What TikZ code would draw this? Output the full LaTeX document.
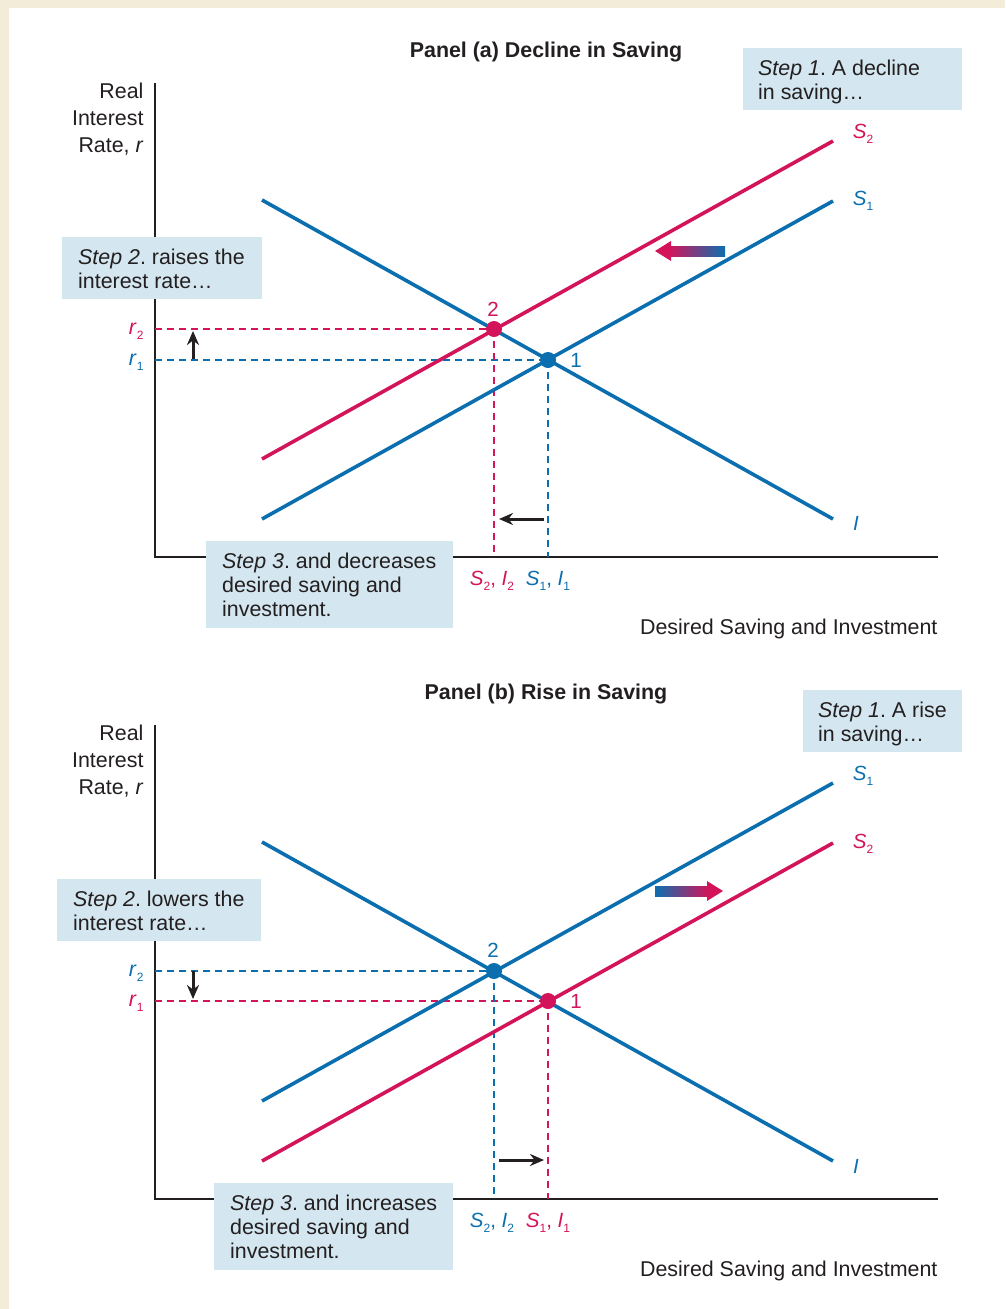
\documentclass[tikz,border=0pt]{standalone}
\usepackage{fontspec}
\setmainfont{Liberation Sans}
\usetikzlibrary{arrows.meta}
\definecolor{cred}{HTML}{D4145A}
\definecolor{cblue}{HTML}{0B6FAF}
\definecolor{boxfill}{HTML}{D4E6EF}
\definecolor{framec}{HTML}{F2ECD9}
\definecolor{txt}{HTML}{231F20}
\newcommand\subl[2]{\textit{#1}\raisebox{-0.45ex}{\fontsize{12}{12}\selectfont #2}}
\frenchspacing
\begin{document}
\begin{tikzpicture}[x=1pt,y=-1pt,
  font=\fontsize{21.4}{24}\selectfont, text=txt,
  curve/.style={line width=3.6pt},
  axisline/.style={line width=1.5pt, draw=txt},
  guide/.style={dashed, dash pattern=on 7pt off 5pt, line width=1.3pt},
  dot/.style={circle, fill=#1, inner sep=0pt, minimum size=16pt},
  stepbox/.style={fill=boxfill, inner sep=0pt, anchor=north west},
  steptext/.style={align=left, inner sep=0pt, anchor=north west},
  shiftarrow/.style={-{Stealth[length=14pt,width=12pt]}, line width=3pt, draw=txt},
  title/.style={font=\fontsize{21.4}{24}\selectfont\bfseries},
  axlab/.style={align=right, anchor=east, font=\fontsize{21.4}{27}\selectfont},
  ptlab/.style={font=\fontsize{20.5}{24}\selectfont},
]
\useasboundingbox (0,0) rectangle (1005,1309);
\fill[framec] (0,0) rectangle (1005,1309);
\fill[white] (9,8) rectangle (1005,1309);

%%%%%%%%%%%%%%%% Panel (a)
\node[title] (ta) at (546,52) {Panel (a) Decline in Saving};
\coordinate (a-o) at (155,557);
\coordinate (a-ytop) at (155,83);
\coordinate (a-xend) at (938,557);
\draw[axisline] (a-ytop) -- (a-o) -- (a-xend);
\node[axlab] (a-ylab) at (147,119) {Real\\Interest\\Rate, \textit{r}};

\coordinate (a-I0) at (262,200); \coordinate (a-I1) at (833,519);
\coordinate (a-S10) at (262,519); \coordinate (a-S11) at (833,201);
\coordinate (a-S20) at (262,459); \coordinate (a-S21) at (833,141);

\coordinate (a-r2) at (155,329); \coordinate (a-r1) at (155,360);
\coordinate (a-x2) at (494,557); \coordinate (a-x1) at (548,557);
\coordinate (a-p2) at (494,329);
\coordinate (a-p1) at (548,360);

\draw[guide, cred] (a-r2) -- (a-p2);
\draw[guide, cblue] (a-r1) -- (a-p1);
\draw[guide, cred] (a-p2) -- (a-x2);
\draw[guide, cblue] (a-p1) -- (a-x1);

\draw[curve, cblue] (a-I0) -- (a-I1);
\draw[curve, cblue] (a-S10) -- (a-S11);
\draw[curve, cred] (a-S20) -- (a-S21);
\node[dot=cred] (a-d2) at (a-p2) {};
\node[dot=cblue] (a-d1) at (a-p1) {};

\node[ptlab, text=cred] (a-l2) at (493,309) {2};
\node[ptlab, text=cblue] (a-l1) at (576,360) {1};
\node[ptlab, text=cred] (a-lS2) at (863,134) {\subl{S}{2}};
\node[ptlab, text=cblue] (a-lS1) at (863,201) {\subl{S}{1}};
\node[ptlab, text=cblue] (a-lI) at (856,523) {\textit{I}};

\node[text=cred, anchor=east] (a-lr2) at (147,331) {\subl{r}{2}};
\node[text=cblue, anchor=east] (a-lr1) at (147,362) {\subl{r}{1}};
\node[ptlab, text=cred] (a-lx2) at (492,581) {\subl{S}{2}, \subl{I}{2}};
\node[ptlab, text=cblue] (a-lx1) at (548,581) {\subl{S}{1}, \subl{I}{1}};

\coordinate (a-ua0) at (193,359); \coordinate (a-ua1) at (193,331);
\draw[shiftarrow] (a-ua0) -- (a-ua1);
\coordinate (a-la0) at (544,519); \coordinate (a-la1) at (499,519);
\draw[shiftarrow] (a-la0) -- (a-la1);

% gradient arrow (left)
\shade[left color=cred, right color=cblue] (669,246) rectangle (725,256);
\fill[cred] (655,251) -- (671,241) -- (671,261) -- cycle;

\node[stepbox, minimum width=219pt, minimum height=62pt] (a-b1) at (743,48) {};
\node[steptext] (a-t1) at ([xshift=15pt,yshift=-12pt]a-b1.north west) {\textit{Step 1}. A decline\\in saving\ldots};
\node[stepbox, minimum width=200pt, minimum height=62pt] (a-b2) at (62,237) {};
\node[steptext] (a-t2) at ([xshift=16pt,yshift=-12pt]a-b2.north west) {\textit{Step 2}. raises the\\interest rate\ldots};
\node[stepbox, minimum width=247pt, minimum height=87pt] (a-b3) at (206,541) {};
\node[steptext] (a-t3) at ([xshift=16pt,yshift=-12pt]a-b3.north west) {\textit{Step 3}. and decreases\\desired saving and\\investment.};

\node[anchor=east] (a-xlab) at (941,629) {Desired Saving and Investment};

%%%%%%%%%%%%%%%% Panel (b)
\node[title] (tb) at (546,694) {Panel (b) Rise in Saving};
\coordinate (b-o) at (155,1199);
\coordinate (b-ytop) at (155,725);
\coordinate (b-xend) at (938,1199);
\draw[axisline] (b-ytop) -- (b-o) -- (b-xend);
\node[axlab] (b-ylab) at (147,761) {Real\\Interest\\Rate, \textit{r}};

\coordinate (b-I0) at (262,842); \coordinate (b-I1) at (833,1161);
\coordinate (b-S10) at (262,1101); \coordinate (b-S11) at (833,783);
\coordinate (b-S20) at (262,1161); \coordinate (b-S21) at (833,843);

\coordinate (b-r2) at (155,971); \coordinate (b-r1) at (155,1001);
\coordinate (b-x2) at (494,1199); \coordinate (b-x1) at (548,1199);
\coordinate (b-p2) at (494,971);
\coordinate (b-p1) at (548,1001);

\draw[guide, cblue] (b-r2) -- (b-p2);
\draw[guide, cred] (b-r1) -- (b-p1);
\draw[guide, cblue] (b-p2) -- (b-x2);
\draw[guide, cred] (b-p1) -- (b-x1);

\draw[curve, cblue] (b-I0) -- (b-I1);
\draw[curve, cblue] (b-S10) -- (b-S11);
\draw[curve, cred] (b-S20) -- (b-S21);
\node[dot=cblue] (b-d2) at (b-p2) {};
\node[dot=cred] (b-d1) at (b-p1) {};

\node[ptlab, text=cblue] (b-l2) at (493,950) {2};
\node[ptlab, text=cred] (b-l1) at (576,1001) {1};
\node[ptlab, text=cblue] (b-lS1) at (863,776) {\subl{S}{1}};
\node[ptlab, text=cred] (b-lS2) at (863,844) {\subl{S}{2}};
\node[ptlab, text=cblue] (b-lI) at (856,1166) {\textit{I}};

\node[text=cblue, anchor=east] (b-lr2) at (147,973) {\subl{r}{2}};
\node[text=cred, anchor=east] (b-lr1) at (147,1003) {\subl{r}{1}};
\node[ptlab, text=cblue] (b-lx2) at (492,1223) {\subl{S}{2}, \subl{I}{2}};
\node[ptlab, text=cred] (b-lx1) at (548,1223) {\subl{S}{1}, \subl{I}{1}};

\coordinate (b-da0) at (193,971); \coordinate (b-da1) at (193,999);
\draw[shiftarrow] (b-da0) -- (b-da1);
\coordinate (b-ra0) at (499,1160); \coordinate (b-ra1) at (544,1160);
\draw[shiftarrow] (b-ra0) -- (b-ra1);

% gradient arrow (right)
\shade[left color=cblue, right color=cred] (655,886) rectangle (709,896);
\fill[cred] (723,891) -- (707,881) -- (707,901) -- cycle;

\node[stepbox, minimum width=159pt, minimum height=62pt] (b-b1) at (803,690) {};
\node[steptext] (b-t1) at ([xshift=15pt,yshift=-12pt]b-b1.north west) {\textit{Step 1}. A rise\\in saving\ldots};
\node[stepbox, minimum width=204pt, minimum height=62pt] (b-b2) at (57,879) {};
\node[steptext] (b-t2) at ([xshift=16pt,yshift=-12pt]b-b2.north west) {\textit{Step 2}. lowers the\\interest rate\ldots};
\node[stepbox, minimum width=239pt, minimum height=87pt] (b-b3) at (214,1183) {};
\node[steptext] (b-t3) at ([xshift=16pt,yshift=-12pt]b-b3.north west) {\textit{Step 3}. and increases\\desired saving and\\investment.};

\node[anchor=east] (b-xlab) at (941,1271) {Desired Saving and Investment};
\end{tikzpicture}
\end{document}
